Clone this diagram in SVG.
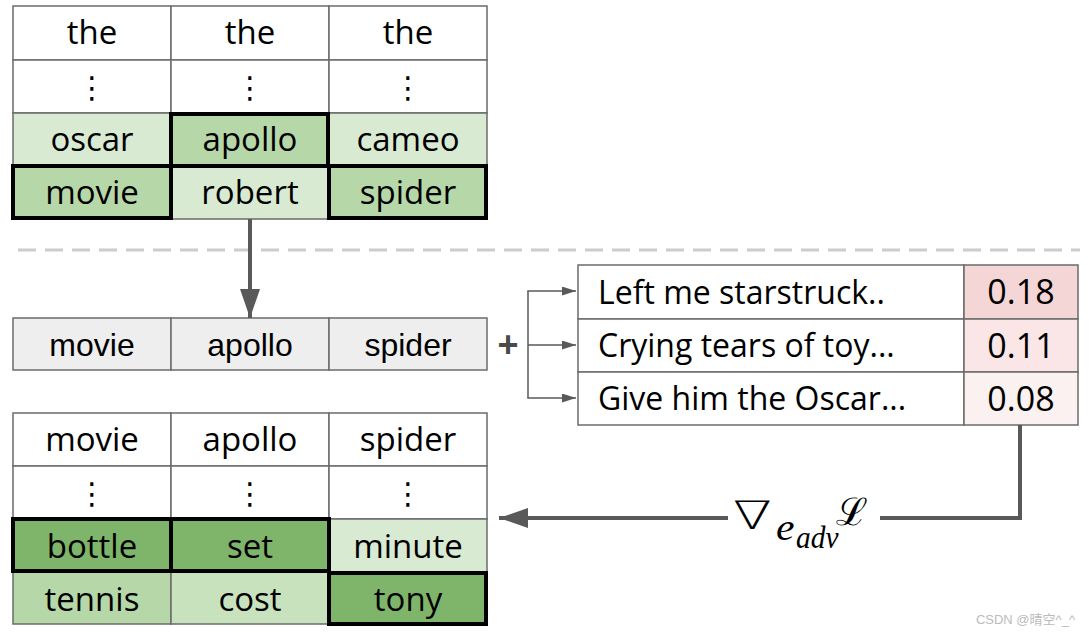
<svg xmlns="http://www.w3.org/2000/svg" width="1089" height="634" viewBox="0 0 1089 634">
<defs>
<style>
.c{stroke:#6b6b6b;stroke-width:1.5}
.w{fill:#ffffff}
.l{fill:#d9ead3}
.m{fill:#b6d7a8}
.n{fill:#c8e2bd}
.d{fill:#7eb56a}
.g{fill:#eeeeee}
.hl{fill:none;stroke:#000;stroke-width:4}
.t{font-family:"Open Sans","Noto Sans",sans-serif;font-size:33px;fill:#000;text-anchor:middle}
.a{font-family:"Liberation Sans",Arial,sans-serif;font-size:32px;fill:#000;text-anchor:middle}
.s{font-family:"Open Sans","Noto Sans",sans-serif;font-size:32px;fill:#000}
.v{font-family:"Open Sans","Noto Sans",sans-serif;font-size:34px;fill:#000;text-anchor:middle}
.dots{font-family:"DejaVu Sans",sans-serif;font-size:30px;fill:#000;text-anchor:middle}
.ln{stroke:#595959;fill:none}
.mi{font-family:"Liberation Serif",serif;font-style:italic;fill:#000}
</style>
<marker id="big" markerWidth="29" markerHeight="20" refX="29" refY="10" orient="auto" markerUnits="userSpaceOnUse">
<path d="M0,0 L29,10 L0,20 z" fill="#595959"/>
</marker>
<marker id="sm" markerWidth="14" markerHeight="9" refX="14" refY="4.5" orient="auto" markerUnits="userSpaceOnUse">
<path d="M0,0 L14,4.5 L0,9 z" fill="#595959"/>
</marker>
</defs>

<g id="top-table">
<rect class="c w" x="13" y="6" width="158" height="54"/><text class="t" x="92" y="44">the</text>
<rect class="c w" x="171" y="6" width="158" height="54"/><text class="t" x="250" y="44">the</text>
<rect class="c w" x="329" y="6" width="158" height="54"/><text class="t" x="408" y="44">the</text>
<rect class="c w" x="13" y="60" width="158" height="53"/><text class="dots" x="92" y="98">⋮</text>
<rect class="c w" x="171" y="60" width="158" height="53"/><text class="dots" x="250" y="98">⋮</text>
<rect class="c w" x="329" y="60" width="158" height="53"/><text class="dots" x="408" y="98">⋮</text>
<rect class="c l" x="13" y="113" width="158" height="53"/><text class="t" x="92" y="151">oscar</text>
<rect class="c m" x="171" y="113" width="158" height="53"/><text class="t" x="250" y="151">apollo</text>
<rect class="c l" x="329" y="113" width="158" height="53"/><text class="t" x="408" y="151">cameo</text>
<rect class="c m" x="13" y="166" width="158" height="53"/><text class="t" x="92" y="204">movie</text>
<rect class="c l" x="171" y="166" width="158" height="53"/><text class="t" x="250" y="204">robert</text>
<rect class="c m" x="329" y="166" width="158" height="53"/><text class="t" x="408" y="204">spider</text>
<rect class="hl" x="171" y="114" width="157" height="52"/>
<rect class="hl" x="13" y="166" width="158" height="52"/>
<rect class="hl" x="329" y="166" width="157" height="52"/>
</g>

<line x1="18" y1="250" x2="1080" y2="250" stroke="#cccccc" stroke-width="3" stroke-dasharray="18,9"/>

<g id="middle-row">
<rect class="c g" x="13" y="318" width="158" height="52"/><text class="a" x="92" y="356">movie</text>
<rect class="c g" x="171" y="318" width="158" height="52"/><text class="a" x="250" y="356">apollo</text>
<rect class="c g" x="329" y="318" width="158" height="52"/><text class="a" x="408" y="356">spider</text>
</g>

<text id="plus" x="508" y="357" font-family="Liberation Sans,Arial,sans-serif" font-weight="bold" font-size="36" fill="#4a4a4a" text-anchor="middle">+</text>

<g id="sentences">
<rect class="c w" x="578" y="265" width="386" height="54"/><text class="s" x="598" y="304">Left me starstruck..</text>
<rect class="c w" x="578" y="319" width="386" height="53"/><text class="s" x="598" y="357">Crying tears of toy...</text>
<rect class="c w" x="578" y="372" width="386" height="53"/><text class="s" x="598" y="410">Give him the Oscar...</text>
<rect class="c" fill="#f5d6d6" x="964" y="265" width="114" height="54"/><text class="v" x="1021" y="304">0.18</text>
<rect class="c" fill="#fae6e6" x="964" y="319" width="114" height="53"/><text class="v" x="1021" y="358">0.11</text>
<rect class="c" fill="#fcf1f1" x="964" y="372" width="114" height="53"/><text class="v" x="1021" y="411">0.08</text>
</g>

<g id="bottom-table">
<rect class="c w" x="13" y="413" width="158" height="53"/><text class="t" x="92" y="451">movie</text>
<rect class="c w" x="171" y="413" width="158" height="53"/><text class="t" x="250" y="451">apollo</text>
<rect class="c w" x="329" y="413" width="158" height="53"/><text class="t" x="408" y="451">spider</text>
<rect class="c w" x="13" y="466" width="158" height="53"/><text class="dots" x="92" y="504">⋮</text>
<rect class="c w" x="171" y="466" width="158" height="53"/><text class="dots" x="250" y="504">⋮</text>
<rect class="c w" x="329" y="466" width="158" height="53"/><text class="dots" x="408" y="504">⋮</text>
<rect class="c d" x="13" y="519" width="158" height="53"/><text class="t" x="92" y="558">bottle</text>
<rect class="c d" x="171" y="519" width="158" height="53"/><text class="t" x="250" y="558">set</text>
<rect class="c l" x="329" y="519" width="158" height="53"/><text class="t" x="408" y="558">minute</text>
<rect class="c m" x="13" y="572" width="158" height="52"/><text class="t" x="92" y="611">tennis</text>
<rect class="c n" x="171" y="572" width="158" height="52"/><text class="t" x="250" y="611">cost</text>
<rect class="c d" x="329" y="572" width="158" height="52"/><text class="t" x="408" y="611">tony</text>
<rect class="hl" x="13" y="519" width="158" height="52"/>
<rect class="hl" x="171" y="519" width="158" height="52"/>
<rect class="hl" x="329" y="573" width="157" height="51"/>
</g>

<g id="connectors">
<line class="ln" x1="250" y1="219" x2="250" y2="318" stroke-width="4" marker-end="url(#big)"/>
<path class="ln" d="M528,291 V398" stroke-width="1.5"/>
<line class="ln" x1="527.3" y1="291" x2="576" y2="291" stroke-width="1.5" marker-end="url(#sm)"/>
<line class="ln" x1="528" y1="345" x2="576" y2="345" stroke-width="1.5" marker-end="url(#sm)"/>
<line class="ln" x1="527.3" y1="398" x2="576" y2="398" stroke-width="1.5" marker-end="url(#sm)"/>
<path class="ln" d="M1020,425 V518 H880" stroke-width="4"/>
<line class="ln" x1="728" y1="518" x2="499" y2="518" stroke-width="4" marker-end="url(#big)"/>
</g>

<g id="grad-label">
<text transform="translate(733,529) scale(1.45,1)" font-family="DejaVu Sans,sans-serif" font-weight="200" font-size="39" fill="#000">∇</text>
<text class="mi" transform="translate(776,540) scale(1.1,1)" font-size="38">e</text>
<text class="mi" transform="translate(796,548) scale(0.95,1)" font-size="31">adv</text>
<text x="836" y="525" font-family="DejaVu Serif,serif" font-size="38" fill="#000">ℒ</text>
</g>

<text x="1075" y="624" font-family="Liberation Sans,Noto Sans CJK SC,sans-serif" font-size="13" fill="#bbbbbb" text-anchor="end">CSDN @晴空^_^</text>
</svg>
